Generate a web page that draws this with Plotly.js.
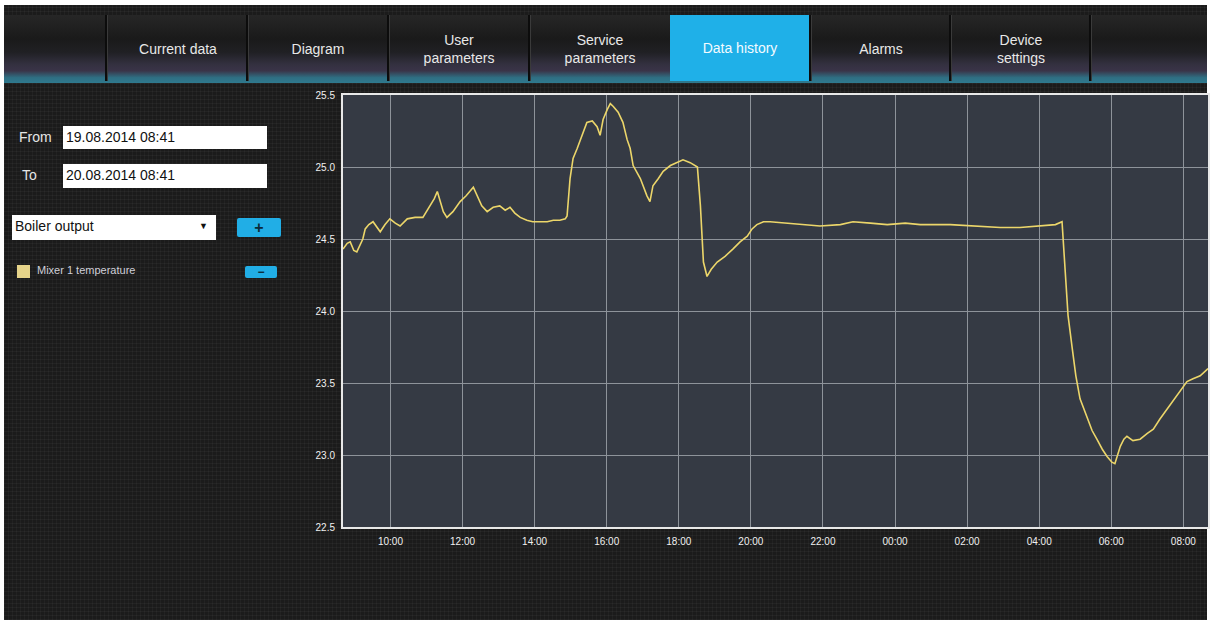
<!DOCTYPE html>
<html>
<head>
<meta charset="utf-8">
<script src="https://cdn.plot.ly/plotly-3.0.1.min.js"></script>
<style>
  html, body { margin:0; padding:0; width:1211px; height:624px; overflow:hidden; background:#fff; }
  #page { position:absolute; left:4px; top:5px; width:1203px; height:615px;
    background-color:#1b1b1b;
    background-image:
      repeating-linear-gradient(0deg, rgba(255,255,255,0.035) 0px, rgba(255,255,255,0.035) 1px, transparent 1px, transparent 4px),
      repeating-linear-gradient(90deg, rgba(255,255,255,0.03) 0px, rgba(255,255,255,0.03) 1px, transparent 1px, transparent 4px);
    font-family: Arial, "Liberation Sans", sans-serif; }
  #nav { position:absolute; left:0; top:10px; width:1203px; height:68px;
    background: linear-gradient(180deg, #262626 0%, #1a1a1a 35%, #202024 55%, #33303f 72%, #3a3448 82%, #2f6e82 92%, #2f7a8f 100%); }
  .cell { position:absolute; top:0; height:68px; width:140px; color:#e8e8e8; font-size:14px; text-align:center;
    display:flex; align-items:center; justify-content:center; line-height:18px; box-sizing:border-box; }
  .sep { position:absolute; top:0; width:2px; height:66px; background:#0c0c0c; border-right:1px solid #3a3a3a; }
  .active { background:#1fb0e8; color:#f4fbff; }
  .lbl { position:absolute; color:#e6e6e6; font-size:14px; }
  .inp { position:absolute; background:#fff; color:#111; font-size:14px; box-sizing:border-box; padding-left:3px; line-height:23px; }
  .btn { position:absolute; background:#21aee6; color:#0b2a3a; font-weight:bold; text-align:center; border-radius:2px; }
  #chart { position:absolute; left:0; top:0; width:1211px; height:624px; }
</style>
</head>
<body>
<div id="page">
  <div id="nav">
    <div class="sep" style="left:101px"></div>
    <div class="cell" style="left:104px">Current data</div>
    <div class="sep" style="left:242px"></div>
    <div class="cell" style="left:244px">Diagram</div>
    <div class="sep" style="left:383px"></div>
    <div class="cell" style="left:385px">User<br>parameters</div>
    <div class="sep" style="left:524px"></div>
    <div class="cell" style="left:526px">Service<br>parameters</div>
    <div class="cell active" style="left:666px;height:66px">Data history</div>
    <div class="sep" style="left:805px"></div>
    <div class="cell" style="left:807px">Alarms</div>
    <div class="sep" style="left:945px"></div>
    <div class="cell" style="left:947px">Device<br>settings</div>
    <div class="sep" style="left:1085px"></div>
  </div>
  <div class="lbl" style="left:15px;top:124px">From</div>
  <div class="inp" style="left:59px;top:121px;width:204px;height:23px">19.08.2014 08:41</div>
  <div class="lbl" style="left:18px;top:162px">To</div>
  <div class="inp" style="left:59px;top:159px;width:204px;height:24px">20.08.2014 08:41</div>
  <div class="inp" style="left:8px;top:210px;width:204px;height:25px">Boiler output<span style="position:absolute;right:8px;top:0;font-size:9px">&#9660;</span></div>
  <div class="btn" style="left:233px;top:213px;width:44px;height:19px;line-height:19px;font-size:16px">+</div>
  <div style="position:absolute;left:13px;top:260px;width:13px;height:13px;background:#e6d48a"></div>
  <div class="lbl" style="left:33px;top:259px;font-size:11px;color:#cfcfd8">Mixer 1 temperature</div>
  <div class="btn" style="left:241px;top:261px;width:32px;height:12px;line-height:12px;font-size:12px">&#8722;</div>
</div>
<div id="chart"></div>
<script>
const times = [
 "2014-08-19 08:41","2014-08-19 08:48","2014-08-19 08:53","2014-08-19 08:59","2014-08-19 09:04","2014-08-19 09:11",
 "2014-08-19 09:14","2014-08-19 09:18","2014-08-19 09:24","2014-08-19 09:31","2014-08-19 09:38","2014-08-19 09:43",
 "2014-08-19 09:51","2014-08-19 09:59","2014-08-19 10:08","2014-08-19 10:16","2014-08-19 10:28","2014-08-19 10:41",
 "2014-08-19 10:54","2014-08-19 11:06","2014-08-19 11:13","2014-08-19 11:18","2014-08-19 11:23","2014-08-19 11:28",
 "2014-08-19 11:34","2014-08-19 11:44","2014-08-19 11:56","2014-08-19 12:06","2014-08-19 12:18","2014-08-19 12:24",
 "2014-08-19 12:32","2014-08-19 12:41","2014-08-19 12:51","2014-08-19 13:02","2014-08-19 13:11","2014-08-19 13:19",
 "2014-08-19 13:27","2014-08-19 13:36","2014-08-19 13:47","2014-08-19 13:57","2014-08-19 14:09","2014-08-19 14:21",
 "2014-08-19 14:31","2014-08-19 14:42","2014-08-19 14:51","2014-08-19 14:54","2014-08-19 14:59","2014-08-19 15:04",
 "2014-08-19 15:11","2014-08-19 15:19","2014-08-19 15:27","2014-08-19 15:36","2014-08-19 15:44","2014-08-19 15:49",
 "2014-08-19 15:54","2014-08-19 16:01","2014-08-19 16:06","2014-08-19 16:11","2014-08-19 16:19","2014-08-19 16:27",
 "2014-08-19 16:34","2014-08-19 16:39","2014-08-19 16:44","2014-08-19 16:56","2014-08-19 17:04","2014-08-19 17:07",
 "2014-08-19 17:12","2014-08-19 17:17","2014-08-19 17:26","2014-08-19 17:34","2014-08-19 17:46","2014-08-19 17:57",
 "2014-08-19 18:07","2014-08-19 18:19","2014-08-19 18:31","2014-08-19 18:36","2014-08-19 18:41","2014-08-19 18:47",
 "2014-08-19 18:54","2014-08-19 19:04","2014-08-19 19:17","2014-08-19 19:30","2014-08-19 19:42","2014-08-19 19:54",
 "2014-08-19 20:02","2014-08-19 20:10","2014-08-19 20:21","2014-08-19 20:32","2014-08-19 21:05","2014-08-19 21:55",
 "2014-08-19 22:29","2014-08-19 22:50","2014-08-19 23:19","2014-08-19 23:47","2014-08-20 00:17","2014-08-20 00:42",
 "2014-08-20 01:32","2014-08-20 02:22","2014-08-20 02:55","2014-08-20 03:28","2014-08-20 04:07","2014-08-20 04:27",
 "2014-08-20 04:38","2014-08-20 04:43","2014-08-20 04:48","2014-08-20 04:55","2014-08-20 05:01","2014-08-20 05:08",
 "2014-08-20 05:15","2014-08-20 05:20","2014-08-20 05:28","2014-08-20 05:36","2014-08-20 05:45","2014-08-20 05:53",
 "2014-08-20 06:01","2014-08-20 06:06","2014-08-20 06:15","2014-08-20 06:21","2014-08-20 06:26","2014-08-20 06:36",
 "2014-08-20 06:48","2014-08-20 07:00","2014-08-20 07:10","2014-08-20 07:21","2014-08-20 07:33","2014-08-20 07:43",
 "2014-08-20 07:55","2014-08-20 08:06","2014-08-20 08:16","2014-08-20 08:28","2014-08-20 08:41"
];
const mixer1Temp = [
 24.43,24.47,24.48,24.42,24.41,24.47,
 24.50,24.57,24.60,24.62,24.58,24.55,
 24.60,24.64,24.61,24.59,24.64,24.65,
 24.65,24.73,24.78,24.83,24.76,24.69,
 24.65,24.69,24.76,24.80,24.86,24.80,
 24.73,24.69,24.72,24.73,24.70,24.72,
 24.68,24.65,24.63,24.62,24.62,24.62,
 24.63,24.63,24.64,24.66,24.92,25.06,
 25.13,25.22,25.31,25.32,25.28,25.22,
 25.33,25.40,25.44,25.42,25.38,25.31,
 25.19,25.13,25.01,24.92,24.83,24.80,
 24.76,24.87,24.92,24.97,25.01,25.03,
 25.05,25.03,25.00,24.73,24.34,24.24,
 24.29,24.34,24.38,24.43,24.48,24.52,
 24.57,24.60,24.62,24.62,24.61,24.59,
 24.60,24.62,24.61,24.60,24.61,24.60,
 24.60,24.59,24.58,24.58,24.59,24.60,
 24.62,24.31,23.97,23.74,23.55,23.39,
 23.31,23.25,23.17,23.11,23.04,22.99,
 22.95,22.94,23.06,23.11,23.13,23.10,
 23.11,23.15,23.18,23.25,23.32,23.37,
 23.44,23.51,23.53,23.55,23.60
];
const xRange = ["2014-08-19 08:41", "2014-08-20 08:41"];
const yRange = [22.5, 25.5];

const axisCommon = {
  showline: true, linecolor: '#e8e8e8', linewidth: 2, mirror: true,
  showgrid: true, gridcolor: '#8e939a', gridwidth: 1, zeroline: false,
  ticks: '', tickfont: {family: 'Arial, Liberation Sans, sans-serif', size: 10, color: '#f0f0f0'}
};
Plotly.newPlot('chart', [{
  x: times, y: mixer1Temp, type: 'scatter', mode: 'lines',
  line: {color: '#ecd66a', width: 1.6}, name: 'Mixer 1 temperature'
}], {
  width: 1211, height: 624,
  margin: {l: 343, r: 3, t: 95, b: 97, pad: 0},
  paper_bgcolor: 'rgba(0,0,0,0)', plot_bgcolor: '#353a44',
  showlegend: false,
  xaxis: Object.assign({}, axisCommon, {
    type: 'date', range: xRange, tick0: '2014-08-19 10:00', dtick: 7200000,
    tickformat: '%H:%M', ticklabelstandoff: 4
  }),
  yaxis: Object.assign({}, axisCommon, {
    range: yRange, dtick: 0.5, tickformat: '.1f', ticklabelstandoff: 4
  })
}, {displayModeBar: false, staticPlot: true});
</script>
</body>
</html>
